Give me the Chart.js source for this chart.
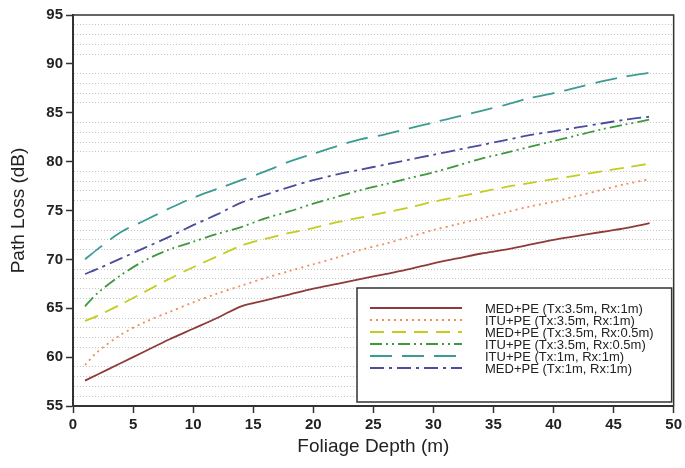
<!DOCTYPE html>
<html>
<head>
<meta charset="utf-8">
<script src="https://cdn.jsdelivr.net/npm/chart.js@4.4.1/dist/chart.umd.min.js"></script>
<style>
  html, body { margin: 0; padding: 0; background: #fff; }
</style>
</head>
<body>
<canvas id="chart" width="685" height="468"></canvas>
<script>
// --- data ---
const depths = [1, 2, 4, 6, 8, 10, 12, 14, 16, 18, 20, 22, 24, 26, 28, 30, 32, 34, 36, 38, 40, 42, 44, 46, 48];

const medTx35Rx1  = [57.6, 58.2, 59.4, 60.6, 61.8, 62.9, 64.0, 65.2, 65.8, 66.4, 67.0, 67.5, 68.0, 68.5, 69.0, 69.6, 70.1, 70.6, 71.0, 71.5, 72.0, 72.4, 72.8, 73.2, 73.7];
const ituTx35Rx1  = [59.2, 60.5, 62.3, 63.6, 64.6, 65.6, 66.5, 67.3, 68.1, 68.8, 69.5, 70.2, 71.0, 71.6, 72.3, 73.0, 73.6, 74.2, 74.8, 75.4, 75.9, 76.5, 77.1, 77.7, 78.2];
const medTx35Rx05 = [63.7, 64.2, 65.4, 66.7, 68.0, 69.2, 70.3, 71.4, 72.1, 72.7, 73.2, 73.8, 74.3, 74.8, 75.3, 75.9, 76.4, 76.9, 77.4, 77.8, 78.2, 78.6, 79.0, 79.4, 79.8];
const ituTx35Rx05 = [65.2, 66.5, 68.4, 69.9, 71.0, 71.8, 72.6, 73.3, 74.2, 74.9, 75.7, 76.4, 77.1, 77.7, 78.3, 78.9, 79.6, 80.3, 80.9, 81.5, 82.1, 82.7, 83.3, 83.8, 84.3];
const ituTx1Rx1   = [70.0, 71.0, 72.8, 74.0, 75.2, 76.3, 77.2, 78.1, 79.0, 80.0, 80.8, 81.6, 82.3, 82.8, 83.4, 84.0, 84.6, 85.2, 85.8, 86.5, 87.0, 87.6, 88.2, 88.7, 89.1];
const medTx1Rx1   = [68.5, 69.0, 70.1, 71.2, 72.3, 73.5, 74.6, 75.8, 76.6, 77.4, 78.1, 78.7, 79.2, 79.7, 80.2, 80.7, 81.2, 81.7, 82.2, 82.7, 83.1, 83.5, 83.9, 84.3, 84.6];

const seriesNames = [
    'MED+PE (Tx:3.5m, Rx:1m)',
    'ITU+PE (Tx:3.5m, Rx:1m)',
    'MED+PE (Tx:3.5m, Rx:0.5m)',
    'ITU+PE (Tx:3.5m, Rx:0.5m)',
    'ITU+PE (Tx:1m, Rx:1m)',
    'MED+PE (Tx:1m, Rx:1m)'
];

const FONT = '"Liberation Sans", Arial, sans-serif';

// one line style per series
function lineSet(label, data, color, dash) {
    return {
        label: label,
        data: data,
        borderColor: color,
        borderWidth: 1.8,
        borderDash: dash,
        pointRadius: 0,
        tension: 0.3,
        fill: false
    };
}

// box round the plot area
const frameBox = {
    id: 'frameBox',
    beforeDatasetsDraw(chart) {
        const { ctx, chartArea: a } = chart;
        ctx.save();
        ctx.strokeStyle = '#333';
        ctx.lineWidth = 1.5;
        ctx.strokeRect(a.left, a.top, a.right - a.left, a.bottom - a.top);
        ctx.restore();
    }
};

// legend sits inside the plot, lower right
const insideLegend = {
    id: 'insideLegend',
    afterDraw(chart) {
        const { ctx, chartArea: a } = chart;
        const x0 = 357, y0 = 288;
        const w = a.right - 2 - x0, h = a.bottom - 4 - y0;
        ctx.save();
        ctx.fillStyle = '#fff';
        ctx.fillRect(x0, y0, w, h);
        ctx.strokeStyle = '#333';
        ctx.lineWidth = 1.5;
        ctx.strokeRect(x0, y0, w, h);
        chart.data.datasets.forEach((ds, i) => {
            const y = 308 + i * 12;
            ctx.strokeStyle = ds.borderColor;
            ctx.lineWidth = ds.borderWidth;
            ctx.setLineDash(ds.borderDash || []);
            ctx.beginPath();
            ctx.moveTo(370, y);
            ctx.lineTo(462, y);
            ctx.stroke();
            ctx.setLineDash([]);
            ctx.fillStyle = '#222';
            ctx.font = '13px ' + FONT;
            ctx.textBaseline = 'middle';
            ctx.fillText(ds.label, 485, y + 1);
        });
        ctx.restore();
    }
};

new Chart(document.getElementById('chart').getContext('2d'), {
    type: 'line',
    data: {
        labels: depths,
        datasets: [
            lineSet(seriesNames[0], medTx35Rx1,  '#8E3B3B', []),
            lineSet(seriesNames[1], ituTx35Rx1,  '#F58A5C', [2, 4]),
            lineSet(seriesNames[2], medTx35Rx05, '#C4CC1E', [14, 8]),
            lineSet(seriesNames[3], ituTx35Rx05, '#3C9A3C', [12, 4, 2, 4, 2, 4]),
            lineSet(seriesNames[4], ituTx1Rx1,   '#3C9C94', [22, 10]),
            lineSet(seriesNames[5], medTx1Rx1,   '#4B4C9E', [14, 5, 3, 5])
        ]
    },
    options: {
        responsive: false,
        devicePixelRatio: 1,
        animation: false,
        layout: { padding: { top: 15, right: 0, left: 0, bottom: 0 } },
        plugins: {
            legend: { display: false },
            tooltip: { enabled: false }
        },
        scales: {
            x: {
                type: 'linear',
                min: 0,
                max: 50,
                afterFit(scale) { scale.height = 62; },
                ticks: {
                    stepSize: 5,
                    color: '#222',
                    padding: 3,
                    maxRotation: 0,
                    font: { family: FONT, size: 15, weight: 'bold' }
                },
                grid: {
                    drawOnChartArea: false,
                    tickLength: 7,
                    tickColor: '#333',
                    tickWidth: 1.5
                },
                border: { color: '#333', width: 2 },
                title: {
                    display: true,
                    text: 'Foliage Depth (m)',
                    color: '#222',
                    font: { family: FONT, size: 19 },
                    padding: { top: 2, bottom: 10 }
                }
            },
            y: {
                min: 55,
                max: 95,
                afterFit(scale) { scale.width = 73; },
                ticks: {
                    stepSize: 1,
                    autoSkip: false,
                    color: '#222',
                    padding: 3,
                    font: { family: FONT, size: 15, weight: 'bold' },
                    callback: v => (v % 5 === 0 ? v : '')
                },
                grid: {
                    color: c => (c.tick && c.tick.value % 5 === 0 ? 'rgba(0,0,0,0)' : '#c4c4c4'),
                    lineWidth: 1,
                    tickLength: 7,
                    tickWidth: 1.5,
                    tickColor: c => (c.tick && c.tick.value % 5 === 0 ? '#333' : 'rgba(0,0,0,0)')
                },
                border: { color: '#333', width: 2, dash: [1, 2] },
                title: {
                    display: true,
                    text: 'Path Loss (dB)',
                    color: '#222',
                    font: { family: FONT, size: 19 },
                    padding: { top: 7, bottom: 0 }
                }
            }
        }
    },
    plugins: [frameBox, insideLegend]
});
</script>
</body>
</html>
